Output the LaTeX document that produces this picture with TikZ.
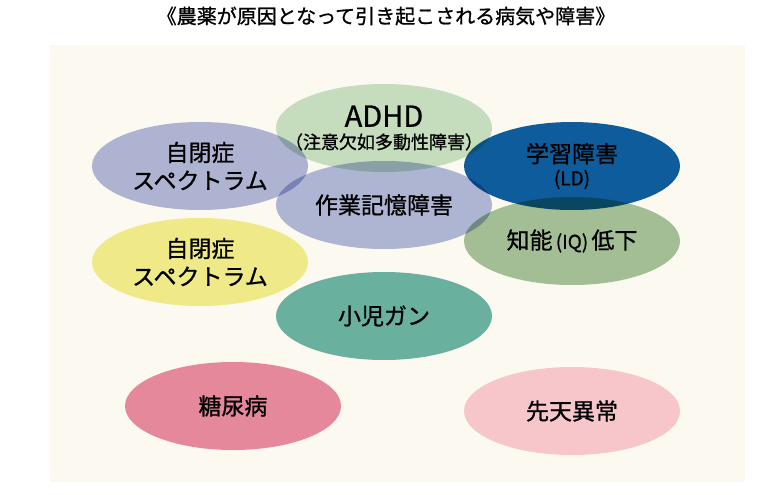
\documentclass[tikz,border=0pt]{standalone}
\usepackage{fontspec}
\newfontfamily\jpfont[FakeBold=0.9]{Noto Sans CJK JP}
\usetikzlibrary{shapes.geometric}
\definecolor{panelcream}{HTML}{FCF9F1}
\definecolor{adhdgreen}{HTML}{C8E2C8}
\definecolor{autlavender}{HTML}{B2B8DF}
\definecolor{ldblue}{HTML}{0F5FA6}
\definecolor{wmblue}{HTML}{B1BAE0}
\definecolor{iqgreen}{HTML}{A5C29E}
\definecolor{autyellow}{HTML}{F2EF90}
\definecolor{cancerteal}{HTML}{6BB5A8}
\definecolor{diabrose}{HTML}{E88CA6}
\definecolor{birthpink}{HTML}{F9CBD6}
\begin{document}
\begin{tikzpicture}
[x=1pt,y=-1pt,
  blobdecorate/.style={shape=ellipse,inner sep=0pt,minimum width=216pt,
    minimum height=88pt,blend mode=multiply},%
  textdecorate/.style={align=center,text=black,
    font=\jpfont\fontsize{23}{28}\selectfont}]
\useasboundingbox (0,0) rectangle (774,495);
\fill[white] (0,0) rectangle (774,495);
\fill[panelcream] (50,45) rectangle (745,482);
%% title
\node (title) at (386,16) [font=\jpfont\fontsize{20}{22}\selectfont]
  {《農薬が原因となって引き起こされる病気や障害》};
%% ellipses
\foreach \nodename/\x/\y/\colour in {autism/200/166/autlavender,
  adhd/384/128/adhdgreen, memory/384/205/wmblue, iq/572/241/iqgreen,
  learning/572/166/ldblue, autismb/200/262/autyellow,
  cancer/384/316/cancerteal, diabetes/233/406/diabrose,
  birth/572/411/birthpink} {
  \node (\nodename) at (\x,\y) [blobdecorate,fill=\colour] {};
}
%% labels
\node [textdecorate] at (autism) {自閉症\\スペクトラム};
\node [textdecorate] at (autismb) {自閉症\\スペクトラム};
\node [textdecorate] at (adhd) {{\fontsize{29}{30}\selectfont ADHD}\\[-6pt]
  {\fontsize{18}{20}\selectfont （注意欠如多動性障害）}};
\node [textdecorate] at (learning) {学習障害\\[-5pt]
  {\fontsize{19}{20}\selectfont (LD)}};
\node [textdecorate] at (memory) {作業記憶障害};
\node [textdecorate] at (iq) {知能{\fontsize{19}{20}\selectfont\,(IQ)\,}低下};
\node [textdecorate] at (cancer) {小児ガン};
\node [textdecorate] at (diabetes) {糖尿病};
\node [textdecorate] at (birth) {先天異常};
\end{tikzpicture}
\end{document}
